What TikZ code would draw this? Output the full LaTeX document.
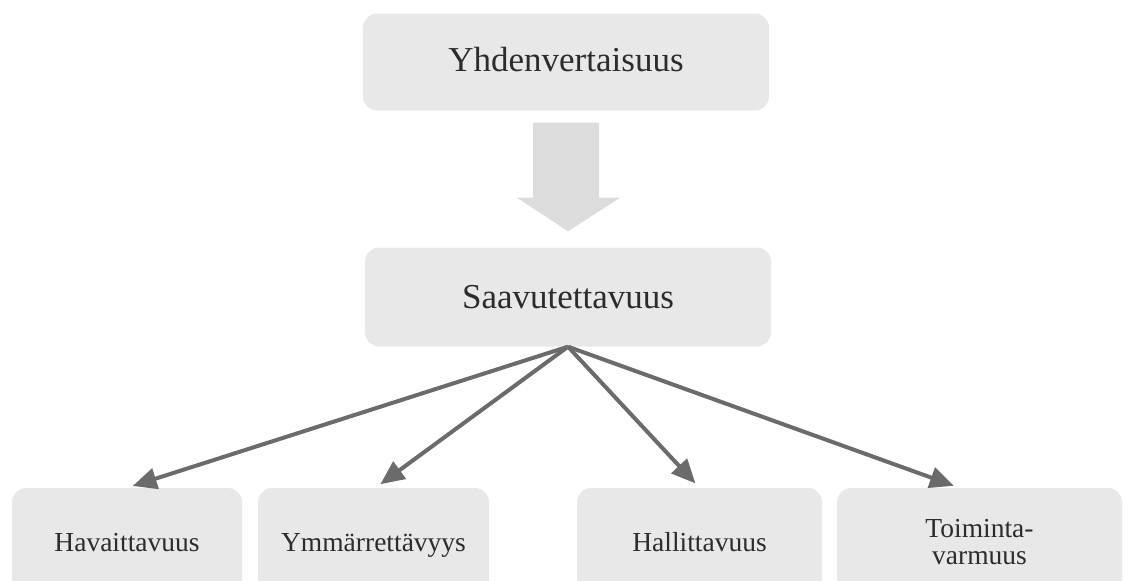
\documentclass[tikz,border=0pt]{standalone}
\usepackage{fontspec}
\setmainfont{Liberation Serif}
\usepackage{tikz}
\usetikzlibrary{positioning,calc,arrows.meta}
\definecolor{boxgrey}{HTML}{E8E8E9}
\definecolor{bigarrow}{HTML}{DCDCDC}
\definecolor{linkgrey}{HTML}{6B6B6B}
\definecolor{textgrey}{HTML}{2C2C2C}

\begin{document}
\begin{tikzpicture}[x=1pt, y=-1pt,
            box/.style={fill=boxgrey, rounded corners=14pt, text=textgrey, align=center, inner sep=0pt},
            bigbox/.style={box, minimum width=406pt, minimum height=97pt, text height=23pt, text depth=0pt, font=\fontsize{35}{38}\selectfont},
            leaf/.style={box, minimum height=107pt, text height=19pt, text depth=0pt, font=\fontsize{27.5}{26}\selectfont},
            link/.style={draw=linkgrey, line width=4pt, -{Triangle[length=24pt,width=21pt]}, shorten >=6pt}]
            \useasboundingbox (0,0) rectangle (1125,581);
            \node[bigbox, text height=19pt] (Yhd) at (566,62) {Yhdenvertaisuus};
            \node[bigbox, on grid, below=235pt of Yhd, xshift=2pt, minimum height=99pt] (Saav) {Saavutettavuus};
            \node[leaf, minimum width=230pt] (Hav) at (127,541.5) {Havaittavuus};
            \node[leaf, minimum width=231pt] (Ymm) at (373.5,541.5) {Ymmärrettävyys};
            \node[leaf, minimum width=245pt] (Hal) at (699.5,541.5) {Hallittavuus};
            \node[leaf, minimum width=285pt, text height=45pt] (Toim) at (979.5,541.5) {Toiminta-\\[1pt]varmuus};
            \fill[bigarrow] ($(Yhd.south)+(-33,12)$) -- ($(Yhd.south)+(33,12)$) -- ($(Yhd.south)+(33,87)$)
              -- ($(Yhd.south)+(54,87)$) -- ($(Saav.north)+(0,-16)$) -- ($(Yhd.south)+(-49,87)$)
              -- ($(Yhd.south)+(-33,87)$) -- cycle;
            \draw[link] (Saav.south) to (Hav.north);
            \draw[link] (Saav.south) to ([xshift=2pt]Ymm.north);
            \draw[link] (Saav.south) to (Hal.north);
            \draw[link] (Saav.south) to ([xshift=-20pt]Toim.north);
          \end{tikzpicture}
\end{document}
